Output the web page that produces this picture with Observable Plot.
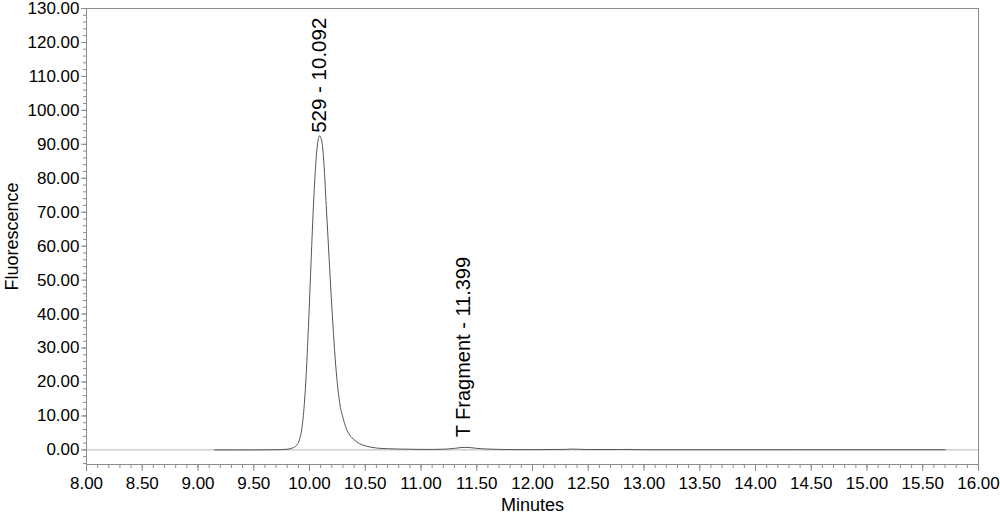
<!DOCTYPE html>
<html>
<head>
<meta charset="utf-8">
<script src="https://cdn.jsdelivr.net/npm/d3@7"></script>
<script src="https://cdn.jsdelivr.net/npm/@observablehq/plot@0.6"></script>
<style>
  html, body { margin: 0; padding: 0; background: #fff; }
  #chart svg { display: block; }
</style>
</head>
<body>
<div id="chart"></div>
<script>
// Retention time (minutes) of the trace samples
const times = [
  9.15, 9.50, 9.70, 9.80, 9.85, 9.88, 9.91, 9.93, 9.95, 9.97, 9.99,
  10.01, 10.03, 10.05, 10.07, 10.09, 10.11, 10.13, 10.15, 10.17, 10.19,
  10.21, 10.23, 10.25, 10.27, 10.30, 10.33, 10.36, 10.40, 10.45, 10.50,
  10.55, 10.60, 10.70, 10.80, 10.90, 11.00, 11.10, 11.20, 11.30, 11.35,
  11.40, 11.45, 11.50, 11.60, 11.70, 11.80, 12.00, 12.30, 12.35, 12.40,
  12.50, 12.80, 12.85, 12.90, 13.00, 15.70
];
// Fluorescence at each time
const fluorescence = [
  0.00, 0.00, 0.05, 0.20, 0.60, 1.20, 3.0, 6.0, 12.0, 22.0, 36.0,
  52.0, 68.0, 81.0, 89.5, 92.5, 91.0, 84.0, 72.0, 60.0, 48.0,
  37.0, 27.0, 19.5, 14.0, 9.5, 6.3, 4.4, 3.0, 1.8, 1.2,
  0.8, 0.55, 0.35, 0.25, 0.20, 0.15, 0.15, 0.20, 0.45, 0.65,
  0.75, 0.65, 0.45, 0.25, 0.15, 0.10, 0.08, 0.15, 0.25, 0.20,
  0.10, 0.12, 0.15, 0.10, 0.05, 0.05
];
// Peak annotations
const peakTimes = [10.092, 11.399];
const peakHeights = [92.5, 0.75];
const peakNames = ["529 - 10.092", "T Fragment - 11.399"];

// Axis ticks
const xMajorTicks = [8.0, 8.5, 9.0, 9.5, 10.0, 10.5, 11.0, 11.5, 12.0, 12.5, 13.0, 13.5, 14.0, 14.5, 15.0, 15.5, 16.0];
const yMajorTicks = [0, 10, 20, 30, 40, 50, 60, 70, 80, 90, 100, 110, 120, 130];
const xMinorTicks = d3.range(80, 161).map(d => d / 10);
const yMinorTicks = d3.range(-2, 66).map(d => d * 2);

const trace = times.map((t, i) => ({t, v: fluorescence[i]}));
const peaks = peakTimes.map((t, i) => ({t, v: peakHeights[i], label: peakNames[i]}));

const gray = "#8c8c8c";
const font = "'Liberation Sans', Arial, sans-serif";

const chart = Plot.plot({
  width: 1000,
  height: 516,
  marginLeft: 86,
  marginRight: 22,
  marginTop: 8,
  marginBottom: 52,
  style: {fontFamily: font, fontSize: "17px", color: "#000", background: "#fff"},
  x: {domain: [8, 16]},
  y: {domain: [-4.3, 130]},
  marks: [
    Plot.axisX(xMinorTicks, {tickSize: 4, tickFormat: () => "", stroke: gray, label: null}),
    Plot.axisX(xMajorTicks, {tickSize: 7, tickPadding: 5, tickFormat: d => d.toFixed(2), stroke: gray, label: null, fontSize: 17}),
    Plot.axisY(yMinorTicks, {tickSize: 3, tickFormat: () => "", stroke: gray, label: null}),
    Plot.axisY(yMajorTicks, {tickSize: 5, tickPadding: 2, tickFormat: d => d.toFixed(2), stroke: gray, label: null, fontSize: 17}),
    Plot.ruleY([0], {stroke: "#b4b4b4", strokeWidth: 1}),
    Plot.frame({stroke: gray, strokeWidth: 1}),
    Plot.line(trace, {x: "t", y: "v", stroke: "#555", strokeWidth: 1, curve: "monotone-x"}),
    Plot.text(peaks.slice(0, 1), {x: "t", y: "v", text: "label", rotate: -90, textAnchor: "start", dy: -3, fontSize: 20.5, fill: "#000"}),
    Plot.text(peaks.slice(1), {x: "t", y: "v", text: "label", rotate: -90, textAnchor: "start", dy: -10, dx: -2, fontSize: 20, fill: "#000"}),
    Plot.text(["Fluorescence"], {frameAnchor: "left", textAnchor: "middle", dx: -74, rotate: -90, fontSize: 18, fill: "#000"}),
    Plot.text(["Minutes"], {frameAnchor: "bottom", textAnchor: "middle", dy: 46, fontSize: 18, fill: "#000"})
  ]
});
document.getElementById("chart").appendChild(chart);
</script>
</body>
</html>
